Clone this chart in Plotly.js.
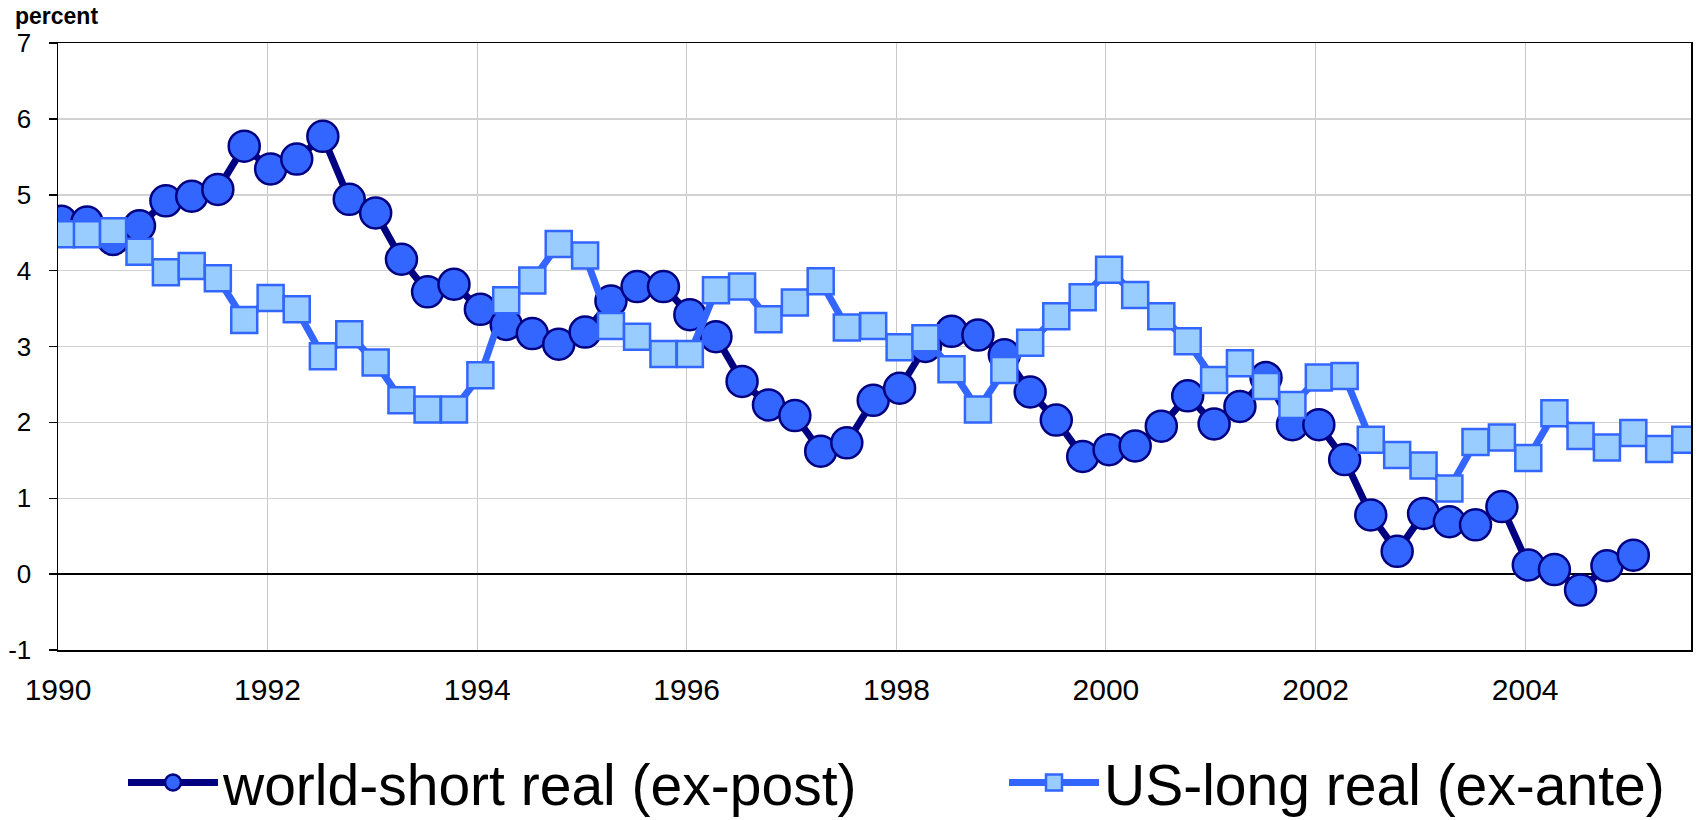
<!DOCTYPE html>
<html>
<head>
<meta charset="utf-8">
<script src="https://cdn.plot.ly/plotly-3.0.1.min.js"></script>
<style>
  html, body { margin: 0; padding: 0; background: #ffffff; }
  #chart { width: 1704px; height: 820px; }
</style>
</head>
<body>
<div id="chart"></div>
<script>
// Quarterly real interest rates, percent
const startYear = 1990;

const worldShortReal = [
  4.65, 4.64, 4.41, 4.59, 4.92, 4.98, 5.07, 5.64,
  5.34, 5.47, 5.77, 4.94, 4.76, 4.15, 3.72, 3.82,
  3.49, 3.29, 3.17, 3.03, 3.19, 3.60, 3.79, 3.79,
  3.42, 3.13, 2.54, 2.23, 2.09, 1.62, 1.73, 2.29,
  2.45, 3.00, 3.20, 3.15, 2.89, 2.40, 2.03, 1.55,
  1.64, 1.69, 1.95, 2.35, 1.98, 2.21, 2.59, 1.97,
  1.97, 1.51, 0.78, 0.30, 0.80, 0.69, 0.65, 0.89,
  0.12, 0.06, -0.21, 0.11, 0.25
];

const usLongReal = [
  4.48, 4.48, 4.52, 4.25, 3.98, 4.06, 3.90, 3.35,
  3.64, 3.49, 2.87, 3.16, 2.79, 2.29, 2.17, 2.17,
  2.62, 3.61, 3.87, 4.35, 4.20, 3.27, 3.13, 2.90,
  2.90, 3.74, 3.79, 3.36, 3.58, 3.86, 3.25, 3.27,
  2.99, 3.11, 2.70, 2.17, 2.69, 3.05, 3.40, 3.65,
  4.01, 3.68, 3.40, 3.07, 2.56, 2.78, 2.48, 2.23,
  2.59, 2.61, 1.77, 1.57, 1.43, 1.13, 1.74, 1.80,
  1.53, 2.12, 1.82, 1.67, 1.86, 1.65, 1.77
];

const seriesNames = ['world-short real (ex-post)', 'US-long real (ex-ante)'];
const yTicks = [-1, 0, 1, 2, 3, 4, 5, 6, 7];

// one observation date per quarter
function quarterDates(n) {
  const out = [];
  for (let i = 0; i < n; i++) {
    const y = startYear + Math.floor(i / 4);
    const m = 1 + 3 * (i % 4);
    out.push(y + '-' + String(m).padStart(2, '0') + '-12');
  }
  return out;
}

const FONT = '"Liberation Sans", Arial, Helvetica, sans-serif';
const X_RANGE = ['1990-01-01', '2005-08-01'];

const traces = [
  {
    x: quarterDates(worldShortReal.length),
    y: worldShortReal,
    name: seriesNames[0],
    type: 'scatter',
    mode: 'lines+markers',
    legendwidth: 776,
    line: { color: '#000080', width: 7 },
    marker: { symbol: 'circle', size: 31, color: '#3366FF',
              line: { color: '#000080', width: 2.5 } }
  },
  {
    x: quarterDates(usLongReal.length),
    y: usLongReal,
    name: seriesNames[1],
    type: 'scatter',
    mode: 'lines+markers',
    line: { color: '#3366FF', width: 7 },
    marker: { symbol: 'square', size: 26, color: '#99CCFF',
              line: { color: '#3366FF', width: 2.5 } }
  }
];

const layout = {
  width: 1704,
  height: 820,
  paper_bgcolor: '#ffffff',
  plot_bgcolor: '#ffffff',
  font: { family: FONT, color: '#000000' },
  margin: { l: 58, r: 13, t: 43, b: 170, autoexpand: false },
  showlegend: true,
  legend: {
    orientation: 'h',
    x: 0.0398, xanchor: 'left',
    y: -0.219, yanchor: 'middle',
    font: { family: FONT, size: 57, color: '#000000' },
    itemwidth: 90,
    bgcolor: 'rgba(0,0,0,0)'
  },
  xaxis: {
    type: 'date',
    range: X_RANGE,
    tick0: '1990-01-01',
    dtick: 'M24',
    tickformat: '%Y',
    showgrid: true,
    gridcolor: '#c8c8c8',
    gridwidth: 1,
    showline: true,
    linecolor: '#000000',
    linewidth: 1.5,
    mirror: true,
    ticks: '',
    ticklabelstandoff: 12,
    tickfont: { family: FONT, size: 30, color: '#000000' },
    zeroline: false
  },
  // tick marks along the zero line
  xaxis2: {
    type: 'date',
    overlaying: 'x',
    anchor: 'free',
    position: 0.125,
    range: X_RANGE,
    tick0: '1990-01-01',
    dtick: 'M24',
    showgrid: false,
    showline: false,
    showticklabels: false,
    ticks: 'outside',
    ticklen: 7,
    tickwidth: 1.5,
    tickcolor: '#000000',
    zeroline: false
  },
  yaxis: {
    range: [-1, 7],
    tickvals: yTicks,
    ticktext: yTicks.map(String),
    showgrid: true,
    gridcolor: '#d2d2d2',
    gridwidth: 1.5,
    showline: true,
    linecolor: '#000000',
    linewidth: 1.5,
    mirror: true,
    ticks: 'outside',
    ticklen: 8,
    tickwidth: 1.5,
    tickcolor: '#000000',
    ticklabelstandoff: 12,
    tickfont: { family: FONT, size: 26, color: '#000000' },
    zeroline: true,
    zerolinecolor: '#000000',
    zerolinewidth: 1.5
  },
  annotations: [
    {
      text: '<b>percent</b>',
      xref: 'paper', yref: 'paper',
      x: -0.0275, xanchor: 'left',
      y: 1.0696, yanchor: 'top',
      showarrow: false,
      font: { family: FONT, size: 23, color: '#000000' }
    }
  ]
};

Plotly.newPlot('chart', traces, layout, { displayModeBar: false, staticPlot: true });
</script>
</body>
</html>
